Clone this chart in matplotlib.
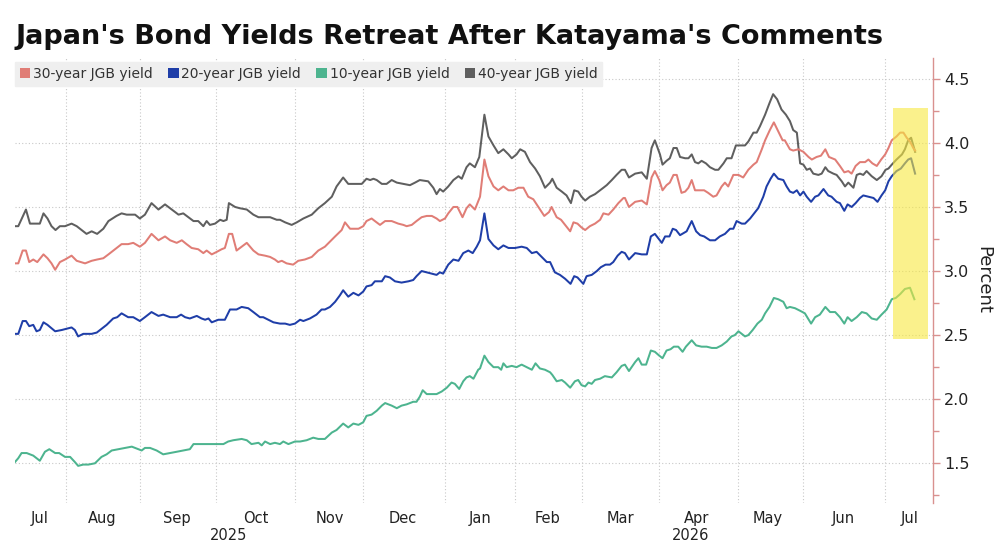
import matplotlib
matplotlib.use("Agg")
import matplotlib.pyplot as plt
from matplotlib.patches import Rectangle
from matplotlib.ticker import FixedLocator, MultipleLocator, FormatStrFormatter, NullFormatter

# ---- data (x = trading-day index from start of window) ----
t40 = [0.0,0.9,3.0,4.1,5.5,6.8,7.8,8.9,10.0,11.1,12.3,13.7,15.5,16.9,19.6,21.0,22.5,24.2,25.6,27.8,29.2,30.6,32.9,34.2,35.6,37.4,39.3,41.1,42.5,
       44.8,46.1,47.5,48.9,50.2,51.6,52.5,53.4,54.8,56.2,57.1,58.0,58.6,60.3,61.6,63.5,65.3,66.7,68.5,69.9,71.7,72.6,74.0,75.8,77.2,79.0,81.3,83.1,84.9,
       86.8,88.1,89.9,91.3,93.2,95.0,96.3,97.3,98.2,99.1,100.5,101.8,103.2,104.6,106.4,108.2,109.6,110.9,113.2,114.6,115.5,116.4,117.3,118.7,120.1,121.5,122.4,123.7,124.6,126.0,127.2,
       128.6,129.7,131.1,132.4,133.8,135.2,136.1,137.4,138.4,139.7,141.1,142.5,143.8,145.2,146.6,147.2,148.4,149.8,151.1,152.3,153.2,154.3,155.2,156.2,157.5,158.9,160.3,161.2,162.1,163.5,164.8,166.2,167.1,168.2,169.9,
       171.7,173.1,174.4,175.3,176.7,177.4,178.5,179.4,180.4,181.3,182.2,183.6,184.5,185.4,186.3,187.2,188.1,189.3,190.4,191.8,192.7,194.1,195.0,196.3,197.5,198.6,200.0,200.9,202.3,203.2,204.1,205.5,206.7,207.7,208.8,210.0,211.2,212.3,
       213.2,214.2,215.1,216.0,216.9,217.8,218.7,220.1,221.0,222.0,222.8,224.2,225.1,226.5,227.4,228.3,229.7,230.6,231.5,232.4,233.3,234.7,236.1,237.4,238.5,239.3,240.2,241.5,243.0,243.8,244.7,245.5,246.1,246.6]
y40 = [3.35,3.35,3.48,3.37,3.37,3.37,3.45,3.41,3.35,3.32,3.35,3.35,3.37,3.35,3.29,3.31,3.29,3.33,3.39,3.43,3.45,3.44,3.44,3.41,3.44,3.53,3.48,3.52,3.49,
       3.44,3.45,3.42,3.39,3.39,3.35,3.39,3.36,3.37,3.40,3.39,3.40,3.53,3.50,3.49,3.48,3.44,3.42,3.42,3.42,3.40,3.40,3.38,3.36,3.38,3.41,3.44,3.49,3.53,
       3.58,3.66,3.73,3.68,3.68,3.68,3.72,3.71,3.72,3.71,3.68,3.68,3.71,3.69,3.68,3.67,3.69,3.71,3.70,3.65,3.60,3.64,3.62,3.66,3.71,3.74,3.72,3.81,3.84,3.81,3.89,
       4.22,4.05,3.98,3.92,3.95,3.91,3.88,3.91,3.95,3.93,3.85,3.80,3.74,3.65,3.69,3.72,3.65,3.62,3.59,3.53,3.63,3.62,3.58,3.55,3.58,3.60,3.63,3.65,3.67,3.71,3.75,3.79,3.79,3.73,3.76,
       3.77,3.72,3.96,4.02,3.91,3.83,3.86,3.88,3.96,3.96,3.89,3.88,3.88,3.91,3.85,3.84,3.86,3.84,3.81,3.79,3.79,3.84,3.88,3.88,3.98,3.98,3.98,4.01,4.08,4.08,4.13,4.22,4.31,4.38,4.34,4.26,4.22,4.17,
       4.10,4.08,3.84,3.83,3.79,3.80,3.76,3.75,3.76,3.81,3.78,3.76,3.75,3.70,3.66,3.69,3.65,3.75,3.76,3.75,3.78,3.74,3.71,3.74,3.79,3.80,3.83,3.87,3.91,3.95,4.02,4.04,3.98,3.93]

t30 = [0.0,0.9,2.1,3.0,3.9,5.0,6.1,7.8,8.9,10.0,11.0,12.3,13.7,15.5,16.9,19.2,21.0,22.5,24.2,25.6,27.4,29.2,31.0,32.4,34.2,35.6,37.4,39.3,41.1,42.5,
       44.3,45.7,47.0,48.4,50.2,51.6,52.5,53.9,55.3,56.6,57.5,58.6,59.5,60.7,62.1,63.5,65.3,66.7,68.5,69.9,71.2,72.1,73.1,74.4,76.2,77.6,79.4,81.3,83.1,84.9,
       86.3,87.7,89.5,90.4,91.8,93.2,94.1,95.4,96.3,97.7,98.6,100.0,101.4,103.2,105.0,106.4,107.3,108.7,110.0,111.4,112.8,114.2,115.5,116.4,117.8,118.7,120.1,121.2,122.6,123.7,124.6,126.0,127.4,
       128.6,129.7,131.1,132.4,133.8,135.2,136.5,137.9,139.3,140.6,142.0,143.4,145.0,146.3,147.0,148.4,149.6,150.7,152.1,153.0,154.1,155.2,156.2,157.5,158.9,160.3,161.2,162.6,163.9,165.3,166.7,167.1,168.2,169.9,
       171.7,173.1,174.4,175.3,176.5,177.4,178.5,179.4,180.4,181.3,182.6,183.6,184.5,185.4,186.3,187.7,188.8,189.9,191.3,192.2,193.6,194.5,195.4,196.8,198.2,199.5,200.9,202.3,203.2,204.6,205.5,206.8,207.9,209.1,210.3,210.9,212.3,
       213.2,214.6,216.0,217.4,218.3,219.6,220.8,222.0,223.0,224.7,226.0,227.2,228.3,229.2,230.3,231.5,232.9,233.8,234.9,236.1,237.3,238.4,239.3,240.2,241.5,242.5,243.4,244.3,245.2,246.1,246.6]
y30 = [3.06,3.06,3.16,3.16,3.07,3.09,3.07,3.13,3.10,3.06,3.01,3.07,3.09,3.12,3.08,3.06,3.08,3.09,3.10,3.13,3.17,3.21,3.21,3.22,3.19,3.22,3.29,3.24,3.27,3.24,
       3.22,3.24,3.21,3.18,3.17,3.14,3.16,3.13,3.15,3.17,3.18,3.29,3.29,3.16,3.19,3.22,3.16,3.13,3.12,3.11,3.09,3.07,3.08,3.06,3.05,3.08,3.09,3.11,3.16,3.19,
       3.23,3.27,3.32,3.38,3.33,3.33,3.33,3.35,3.39,3.41,3.39,3.36,3.39,3.39,3.37,3.36,3.35,3.36,3.39,3.42,3.43,3.43,3.41,3.39,3.41,3.45,3.50,3.50,3.42,3.49,3.52,3.48,3.58,
       3.87,3.74,3.66,3.63,3.66,3.63,3.63,3.65,3.65,3.58,3.56,3.50,3.43,3.46,3.50,3.42,3.40,3.36,3.31,3.38,3.37,3.34,3.32,3.35,3.37,3.40,3.45,3.44,3.48,3.53,3.57,3.57,3.50,3.54,
       3.55,3.52,3.73,3.78,3.71,3.63,3.67,3.69,3.75,3.75,3.61,3.62,3.65,3.71,3.63,3.63,3.63,3.61,3.58,3.59,3.66,3.69,3.66,3.75,3.75,3.73,3.79,3.83,3.85,3.95,4.02,4.10,4.16,4.09,4.02,4.02,3.95,
       3.94,3.95,3.93,3.89,3.87,3.89,3.90,3.95,3.89,3.87,3.82,3.77,3.78,3.76,3.82,3.85,3.85,3.87,3.84,3.82,3.87,3.91,3.96,4.02,4.05,4.08,4.08,4.04,4.01,3.96,3.94]

t20 = [0.0,0.9,2.1,3.0,3.9,5.0,5.9,6.8,7.8,8.9,11.0,12.8,14.2,15.5,16.4,17.3,18.7,21.0,22.4,24.2,25.1,26.9,28.0,29.2,31.0,32.4,34.2,35.6,37.4,39.3,40.6,42.5,
       44.3,45.5,46.6,47.9,49.8,51.1,52.1,53.0,53.9,55.7,57.5,58.9,60.7,62.1,63.9,65.3,67.1,68.0,69.4,70.8,72.6,74.0,75.3,76.7,78.1,79.0,80.8,82.6,84.0,84.9,
       86.3,87.7,89.0,89.9,91.3,92.7,94.1,95.4,96.3,97.7,98.6,100.5,101.4,102.7,104.1,105.9,107.8,109.1,110.0,111.4,112.8,114.2,115.5,116.4,117.3,118.7,120.1,121.5,122.8,124.2,125.4,126.5,127.4,
       128.6,129.7,131.1,132.4,133.8,135.2,137.0,138.8,140.2,141.6,142.9,144.3,145.7,146.6,147.9,149.3,150.7,152.2,153.2,154.1,155.7,156.6,158.0,159.4,160.5,161.8,163.0,163.9,165.1,166.2,167.1,168.2,169.9,
       171.7,173.1,174.2,175.3,177.2,178.1,179.3,180.2,181.1,182.2,184.0,185.4,186.6,187.7,188.8,190.4,191.8,193.1,194.5,195.9,196.8,197.7,199.1,200.0,201.4,202.5,203.6,205.0,205.9,207.0,207.9,209.1,210.5,211.4,212.3,
       213.2,214.2,215.1,216.0,216.9,218.1,219.2,220.1,221.5,222.8,223.7,225.1,226.0,227.2,228.1,229.2,230.3,231.5,232.4,233.8,235.2,236.3,237.4,238.4,239.3,240.2,241.5,242.7,243.8,244.7,245.5,246.6]
y20 = [2.51,2.51,2.61,2.61,2.57,2.58,2.53,2.54,2.60,2.58,2.53,2.54,2.55,2.56,2.54,2.49,2.51,2.51,2.52,2.56,2.58,2.63,2.64,2.67,2.64,2.64,2.61,2.64,2.68,2.65,2.66,2.64,
       2.64,2.66,2.64,2.63,2.65,2.63,2.62,2.63,2.60,2.62,2.62,2.70,2.70,2.72,2.71,2.68,2.64,2.64,2.62,2.60,2.59,2.59,2.58,2.59,2.62,2.61,2.63,2.66,2.70,2.70,
       2.72,2.76,2.81,2.85,2.80,2.83,2.81,2.84,2.88,2.89,2.92,2.92,2.96,2.95,2.92,2.91,2.92,2.93,2.96,3.00,2.99,2.98,2.97,2.99,2.98,3.05,3.09,3.08,3.14,3.16,3.14,3.19,3.24,
       3.45,3.25,3.20,3.17,3.20,3.18,3.18,3.19,3.18,3.14,3.15,3.11,3.07,3.07,2.99,2.97,2.94,2.90,2.96,2.95,2.90,2.96,2.97,3.00,3.03,3.05,3.05,3.07,3.12,3.15,3.14,3.09,3.14,
       3.13,3.13,3.27,3.29,3.22,3.27,3.27,3.33,3.32,3.28,3.31,3.39,3.31,3.28,3.27,3.24,3.24,3.27,3.29,3.33,3.33,3.39,3.37,3.37,3.41,3.45,3.49,3.58,3.66,3.72,3.76,3.72,3.71,3.66,3.62,
       3.61,3.63,3.59,3.62,3.58,3.54,3.58,3.59,3.64,3.59,3.58,3.54,3.53,3.47,3.52,3.50,3.53,3.57,3.59,3.58,3.57,3.54,3.59,3.63,3.70,3.74,3.78,3.80,3.84,3.87,3.88,3.76]

t10 = [0.0,0.9,1.8,3.2,5.0,6.8,8.2,9.4,11.0,12.1,13.7,15.1,16.4,17.3,18.7,20.1,21.9,23.7,25.1,26.5,28.3,30.1,32.0,33.8,34.7,35.6,37.0,38.8,40.6,42.5,
       44.3,46.1,47.9,48.9,51.1,53.9,55.7,57.1,58.4,59.8,62.1,63.5,64.8,66.7,67.6,68.5,69.9,71.2,72.6,73.5,74.9,76.7,78.1,79.9,81.7,83.1,84.9,
       86.8,88.1,89.9,91.3,92.7,94.1,95.4,96.3,97.7,99.1,100.5,101.4,103.2,104.6,105.9,107.3,109.1,110.0,110.9,111.7,112.8,114.6,115.5,116.9,118.3,119.6,120.5,121.7,122.8,123.7,124.6,125.6,126.9,
       127.4,128.6,129.7,131.1,132.4,133.2,133.8,134.7,136.1,137.4,138.8,140.2,141.6,142.6,143.8,145.2,146.6,147.2,148.4,149.8,150.7,152.1,153.4,154.3,155.2,156.2,157.1,158.0,158.9,160.3,161.6,163.5,164.8,166.2,167.1,168.2,169.9,
       170.8,171.7,172.9,174.2,175.3,176.5,177.4,178.5,179.6,180.5,181.7,182.9,183.8,185.4,186.6,188.1,189.5,190.9,192.2,193.6,195.0,196.3,197.2,198.2,200.0,200.9,202.1,203.4,204.6,205.5,206.7,207.9,209.1,210.5,211.4,212.3,
       213.7,215.1,216.4,218.1,219.2,220.5,222.0,223.3,224.7,226.0,227.2,228.1,229.2,230.6,232.0,233.3,234.7,236.1,237.4,238.8,240.2,241.3,242.5,243.8,245.2,246.4]
y10 = [1.51,1.54,1.58,1.58,1.56,1.52,1.59,1.61,1.58,1.58,1.55,1.55,1.51,1.48,1.49,1.49,1.50,1.55,1.57,1.60,1.61,1.62,1.63,1.61,1.60,1.62,1.62,1.60,1.57,1.58,
       1.59,1.60,1.61,1.65,1.65,1.65,1.65,1.65,1.67,1.68,1.69,1.68,1.65,1.66,1.64,1.67,1.65,1.66,1.65,1.67,1.65,1.67,1.67,1.68,1.70,1.69,1.69,
       1.74,1.76,1.81,1.78,1.81,1.80,1.82,1.87,1.88,1.91,1.95,1.97,1.95,1.93,1.95,1.96,1.98,1.98,2.02,2.07,2.04,2.04,2.04,2.06,2.09,2.13,2.12,2.08,2.14,2.17,2.18,2.16,2.23,
       2.24,2.34,2.29,2.25,2.25,2.23,2.28,2.25,2.26,2.25,2.27,2.25,2.23,2.28,2.24,2.23,2.21,2.19,2.14,2.15,2.13,2.09,2.14,2.15,2.11,2.10,2.13,2.12,2.15,2.16,2.18,2.17,2.21,2.26,2.27,2.22,2.29,
       2.32,2.27,2.27,2.38,2.37,2.34,2.32,2.38,2.39,2.41,2.41,2.37,2.41,2.46,2.42,2.41,2.41,2.40,2.40,2.42,2.45,2.49,2.50,2.53,2.49,2.50,2.54,2.59,2.62,2.67,2.72,2.79,2.78,2.76,2.71,2.72,
       2.71,2.69,2.67,2.59,2.64,2.66,2.72,2.68,2.68,2.64,2.59,2.64,2.61,2.64,2.68,2.67,2.63,2.62,2.66,2.70,2.78,2.79,2.82,2.86,2.87,2.78]

series_labels = ["30-year JGB yield", "20-year JGB yield", "10-year JGB yield", "40-year JGB yield"]

month_starts = [14.0, 34.2, 55.1, 76.7, 95.3, 117.8, 137.0, 155.3, 176.4, 198.0, 216.0, 238.4]
month_label_pos = [6.8, 23.8, 44.4, 66.0, 86.3, 106.3, 127.4, 145.8, 165.8, 186.8, 206.3, 226.8, 245.2]
month_labels = ["Jul", "Aug", "Sep", "Oct", "Nov", "Dec", "Jan", "Feb", "Mar", "Apr", "May", "Jun", "Jul"]
year_label_pos = [58.6, 185.0]
year_labels = ["2025", "2026"]

highlight_x = (240.5, 250.1)
highlight_y = (2.47, 4.27)

# ---- style ----
C30, C20, C10, C40 = "#e07d76", "#1f3ea8", "#4db48f", "#5f5f5f"
AXIS_RED = "#d9918f"

fig = plt.figure(figsize=(10, 5.45), dpi=100)
ax = fig.add_axes([0.015, 0.077, 0.918, 0.817])

ax.plot(t40, y40, color=C40, lw=1.45, zorder=3)
ax.plot(t30, y30, color=C30, lw=1.45, zorder=3)
ax.plot(t20, y20, color=C20, lw=1.45, zorder=3)
ax.plot(t10, y10, color=C10, lw=1.45, zorder=3)

ax.add_patch(Rectangle((highlight_x[0], highlight_y[0]), highlight_x[1] - highlight_x[0],
                       highlight_y[1] - highlight_y[0], facecolor="#f7e840", alpha=0.6,
                       edgecolor="none", zorder=5))

ax.set_xlim(0, 251.5)
ax.set_ylim(1.19, 4.664)

for s in ["top", "left", "bottom"]:
    ax.spines[s].set_visible(False)
ax.spines["right"].set_color(AXIS_RED)
ax.spines["right"].set_linewidth(1.0)

ax.yaxis.tick_right()
ax.yaxis.set_label_position("right")
ax.yaxis.set_major_locator(MultipleLocator(0.5))
ax.yaxis.set_minor_locator(MultipleLocator(0.25))
ax.yaxis.set_major_formatter(FormatStrFormatter("%.1f"))
ax.tick_params(axis="y", which="both", direction="out", color=AXIS_RED, width=1.0,
               labelsize=11.5, labelcolor="#222222", pad=3)
ax.tick_params(axis="y", which="major", length=5)
ax.tick_params(axis="y", which="minor", length=4)
ax.set_ylabel("Percent", rotation=270, fontsize=13, color="#222222", labelpad=16)

ax.xaxis.set_major_locator(FixedLocator(month_starts))
ax.xaxis.set_major_formatter(NullFormatter())
ax.xaxis.set_minor_locator(FixedLocator(month_label_pos))
ax.set_xticklabels(month_labels, minor=True)
ax.tick_params(axis="x", which="both", length=0, labelsize=10.5, labelcolor="#222222", pad=6)

ax.grid(True, which="major", axis="both", linestyle=(0, (1, 2)), color="#c8c8c8", lw=0.8)
ax.set_axisbelow(True)

for pos, lab in zip(year_label_pos, year_labels):
    ax.text(pos, -0.074, lab, transform=ax.get_xaxis_transform(), ha="center", va="center",
            fontsize=10.5, color="#222222")

handles = [Rectangle((0, 0), 1, 1, facecolor=c, edgecolor="none") for c in (C30, C20, C10, C40)]
leg = ax.legend(handles, series_labels, loc="upper left", bbox_to_anchor=(0.0, 0.99), ncol=4,
                fontsize=10, frameon=True, fancybox=False, framealpha=1.0,
                handlelength=0.75, handleheight=0.75, handletextpad=0.2, columnspacing=1.1,
                borderpad=0.35, borderaxespad=0.0)
leg.get_frame().set_facecolor("#efefef")
leg.get_frame().set_edgecolor("#efefef")
for txt in leg.get_texts():
    txt.set_color("#333333")

fig.text(0.015, 0.932, "Japan's Bond Yields Retreat After Katayama's Comments",
         fontsize=19.5, fontweight="bold", family="DejaVu Sans",
         ha="left", va="center", color="#111111")

fig.savefig("out.png", dpi=100, facecolor="white")
